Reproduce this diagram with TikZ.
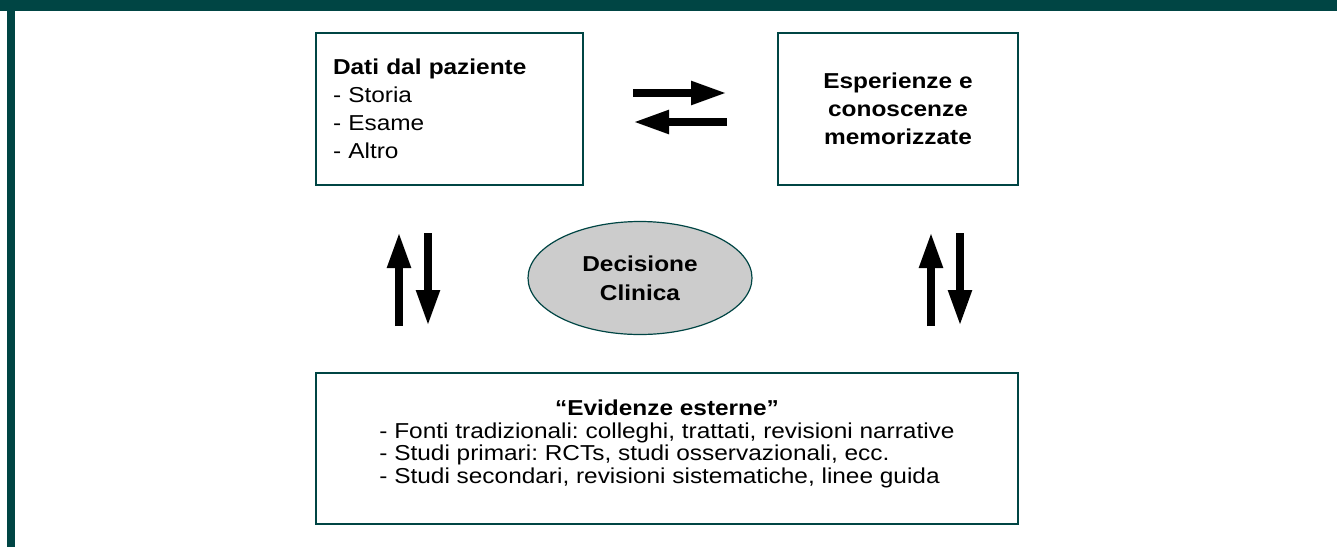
\documentclass[tikz,border=0pt]{standalone}
\usepackage{fontspec}
\setmainfont{Liberation Sans}[FakeStretch=1.13]
\usetikzlibrary{arrows.meta,positioning,shapes.geometric}
\definecolor{slidegreen}{RGB}{0,69,68}
\definecolor{ovalgray}{RGB}{204,204,204}
\frenchspacing

\begin{document}
\begin{tikzpicture}[
    x=1pt, y=-1pt,
    box/.style={rectangle, draw=slidegreen, line width=1.2pt, inner sep=0pt, font=\fontsize{21.6}{28}\selectfont},
    oval/.style={ellipse, draw=slidegreen, line width=1.2pt, fill=ovalgray, minimum width=224pt, minimum height=113pt, inner sep=0pt, align=center, font=\fontsize{21.6}{29}\selectfont\bfseries},
    fatarrow/.style={-{Triangle[length=36pt, width=22pt]}, line width=8pt}
]

% Slide frame
\useasboundingbox (0,0) rectangle (1337,547);
\fill[white] (0,0) rectangle (1337,547);
\fill[slidegreen] (0,0) rectangle (1337,11);
\fill[slidegreen] (7,0) rectangle (15,547);

% Boxes
\node[box, minimum width=267pt, minimum height=152pt, text width=233pt, align=left] (paziente) at (449.5,109)
    {\textbf{Dati dal paziente}\\- Storia\\- Esame\\- Altro};
\node[box, minimum width=240pt, minimum height=152pt, align=center, font=\fontsize{21.6}{28}\selectfont\bfseries] (esperienze) at (898,109)
    {Esperienze e\\conoscenze\\memorizzate};
\node[oval] (decisione) at (640,278) {Decisione\\Clinica};
\node[box, minimum width=702pt, minimum height=151pt] (evidenze) at (667,448.5) {};
\node[align=center, inner sep=0pt, font=\fontsize{21.6}{22.7}\selectfont] (evidtesto) at (667,445)
    {\textbf{“Evidenze esterne”}\\
     \begin{tabular}[t]{@{}l@{}}
     - Fonti tradizionali: colleghi, trattati, revisioni narrative\\
     - Studi primari: RCTs, studi osservazionali, ecc.\\
     - Studi secondari, revisioni sistematiche, linee guida
     \end{tabular}};

% Arrow ends
\coordinate (top1) at (633,93);
\coordinate (top2) at (727,93);
\coordinate (bot1) at (727,122);
\coordinate (bot2) at (633,122);
\coordinate (lup1) at (399,326);
\coordinate (lup2) at (399,232);
\coordinate (ldn1) at (428,233);
\coordinate (ldn2) at (428,326);
\coordinate (rup1) at (931,326);
\coordinate (rup2) at (931,232);
\coordinate (rdn1) at (960,233);
\coordinate (rdn2) at (960,326);

% Arrows
\draw[fatarrow] (top1) -- (top2);
\draw[fatarrow] (bot1) -- (bot2);
\draw[fatarrow] (lup1) -- (lup2);
\draw[fatarrow] (ldn1) -- (ldn2);
\draw[fatarrow] (rup1) -- (rup2);
\draw[fatarrow] (rdn1) -- (rdn2);

\end{tikzpicture}
\end{document}
